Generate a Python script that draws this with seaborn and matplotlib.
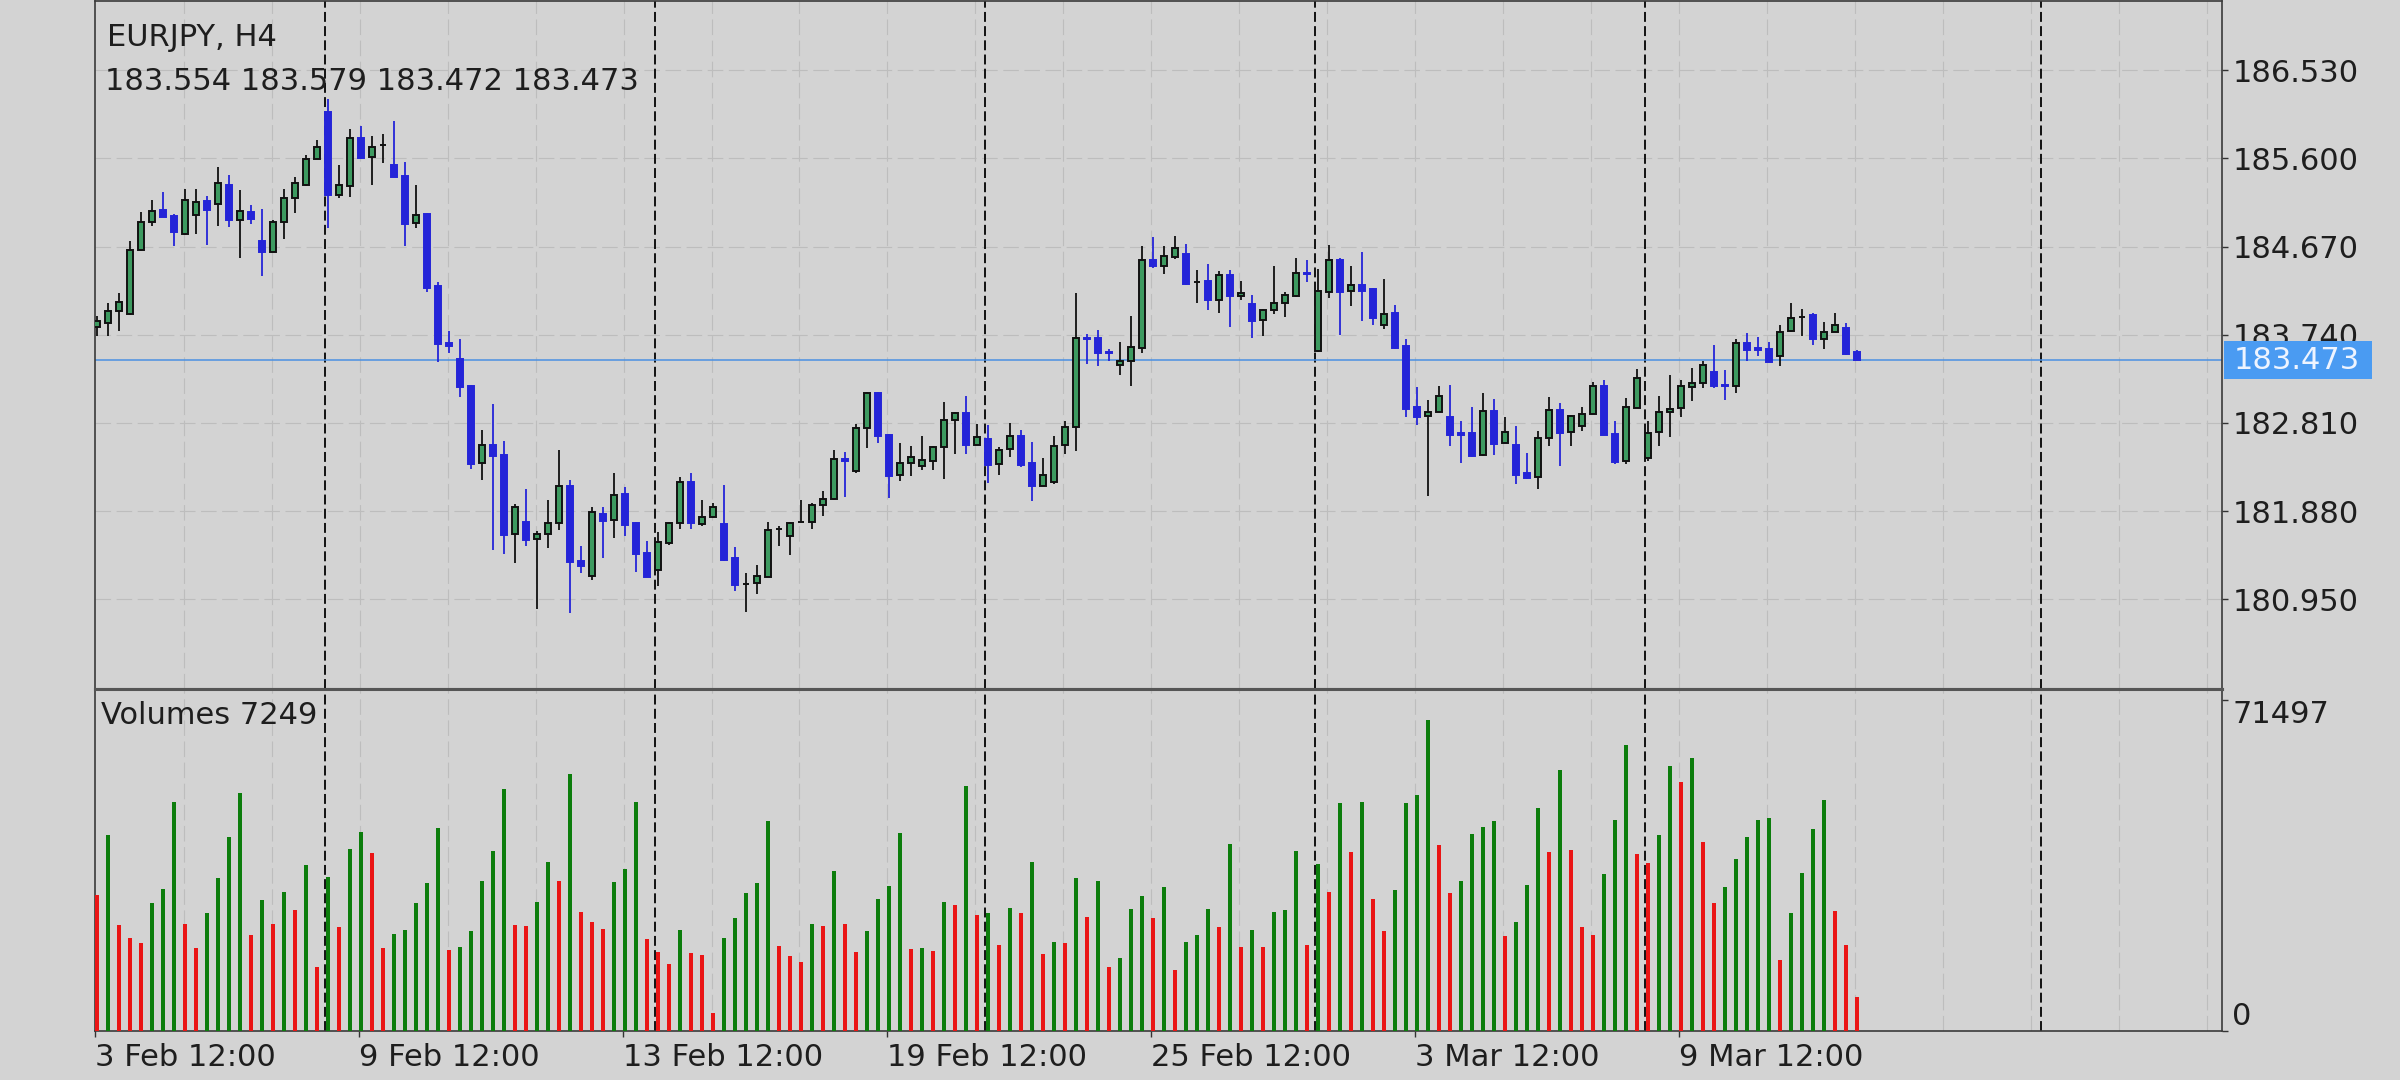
import numpy as np
import pandas as pd
import matplotlib
matplotlib.use("Agg")
import matplotlib.pyplot as plt
import matplotlib.transforms as mtransforms
from matplotlib.patches import Rectangle
import seaborn as sns

# ---------------- data ----------------
symbol_title = "EURJPY, H4"
volume_title = "Volumes"

opens = [183.82, 183.864, 183.989, 183.959, 184.630, 184.932, 185.053, 184.989, 184.808, 185.008,
         185.147, 185.121, 185.317, 184.947, 185.030, 184.725, 184.615, 184.932, 185.185, 185.317,
         185.592, 186.087, 185.215, 185.309, 185.815, 185.611, 185.740, 185.532, 185.411, 184.921,
         185.015, 184.253, 183.649, 183.480, 183.204, 182.385, 182.582, 182.468, 181.638, 181.763,
         181.589, 181.638, 181.751, 182.148, 181.355, 181.197, 181.853, 181.782, 182.065, 181.751,
         181.438, 181.261, 181.544, 181.751, 182.185, 181.744, 181.819, 181.740, 181.382, 181.110,
         181.118, 181.186, 181.687, 181.620, 181.763, 181.763, 181.940, 182.004, 182.431, 182.306,
         182.759, 183.129, 182.683, 182.261, 182.385, 182.355, 182.412, 182.551, 182.838, 182.910,
         182.582, 182.638, 182.374, 182.533, 182.676, 182.382, 182.148, 182.185, 182.574, 182.770,
         183.706, 183.702, 183.559, 183.423, 183.461, 183.600, 184.532, 184.468, 184.562, 184.593,
         184.298, 184.306, 184.102, 184.366, 184.147, 184.064, 183.891, 183.996, 184.079, 184.147,
         184.393, 183.570, 184.193, 184.525, 184.204, 184.261, 184.223, 183.838, 183.966, 183.619,
         182.978, 182.883, 182.921, 182.876, 182.699, 182.702, 182.468, 182.940, 182.600, 182.582,
         182.280, 182.242, 182.646, 182.951, 182.714, 182.782, 182.902, 183.197, 182.695, 182.404,
         182.970, 182.442, 182.714, 182.921, 182.966, 183.185, 183.234, 183.347, 183.215, 183.197,
         183.649, 183.597, 183.589, 183.514, 183.778, 183.932, 183.947, 183.695, 183.770, 183.808,
         183.554]
highs = [183.94, 184.079, 184.185, 184.732, 185.034, 185.159, 185.242, 185.015, 185.279, 185.279,
         185.204, 185.506, 185.430, 185.268, 185.110, 185.064, 184.947, 185.279, 185.404, 185.638,
         185.792, 186.223, 185.532, 185.909, 185.947, 185.838, 185.853, 185.996, 185.562, 185.317,
         185.020, 184.298, 183.781, 183.695, 183.210, 182.732, 183.008, 182.619, 181.959, 182.118,
         181.665, 181.997, 182.525, 182.204, 181.514, 181.921, 181.921, 182.280, 182.136, 181.760,
         181.563, 181.657, 181.770, 182.242, 182.280, 181.997, 181.967, 182.155, 181.506, 181.223,
         181.310, 181.770, 181.725, 181.770, 181.997, 181.967, 182.091, 182.525, 182.506, 182.800,
         183.136, 183.136, 182.695, 182.593, 182.570, 182.676, 182.570, 183.034, 182.929, 183.091,
         182.800, 182.789, 182.551, 182.808, 182.740, 182.612, 182.438, 182.676, 182.827, 184.178,
         183.751, 183.789, 183.589, 183.664, 183.940, 184.676, 184.770, 184.676, 184.777, 184.702,
         184.423, 184.487, 184.411, 184.423, 184.306, 184.159, 184.015, 184.468, 184.196, 184.551,
         184.525, 184.438, 184.687, 184.551, 184.468, 184.611, 184.230, 184.329, 184.053, 183.695,
         183.185, 183.053, 183.197, 183.215, 182.827, 182.978, 183.121, 183.061, 182.872, 182.778,
         182.495, 182.721, 183.083, 183.023, 182.890, 182.978, 183.242, 183.261, 182.834, 183.072,
         183.374, 182.834, 183.091, 183.317, 183.261, 183.385, 183.468, 183.630, 183.366, 183.695,
         183.759, 183.713, 183.668, 183.846, 184.072, 184.008, 183.966, 183.876, 183.966, 183.865,
         183.579]
lows = [183.73, 183.732, 183.781, 183.950, 184.625, 184.883, 184.980, 184.676, 184.796, 184.808,
        184.687, 184.891, 184.872, 184.555, 184.910, 184.355, 184.610, 184.751, 185.027, 185.309,
        185.590, 184.864, 185.185, 185.193, 185.590, 185.317, 185.555, 185.400, 184.676, 184.864,
        184.196, 183.449, 183.544, 183.083, 182.329, 182.212, 181.469, 181.431, 181.337, 181.514,
        180.846, 181.495, 181.676, 180.808, 181.223, 181.155, 181.382, 181.601, 181.620, 181.242,
        181.180, 181.091, 181.525, 181.695, 181.687, 181.725, 181.808, 181.355, 181.035, 180.820,
        181.008, 181.180, 181.514, 181.412, 181.760, 181.687, 181.827, 182.000, 182.027, 182.280,
        182.544, 182.593, 182.016, 182.197, 182.250, 182.317, 182.317, 182.223, 182.487, 182.480,
        182.580, 182.174, 182.261, 182.450, 182.344, 181.989, 182.140, 182.167, 182.487, 182.514,
        183.431, 183.412, 183.468, 183.317, 183.204, 183.551, 184.449, 184.385, 184.544, 184.270,
        184.079, 184.004, 183.966, 183.827, 184.110, 183.702, 183.725, 183.959, 183.932, 184.140,
        184.298, 183.560, 184.129, 183.740, 184.046, 183.883, 183.846, 183.800, 183.589, 182.876,
        182.789, 182.035, 182.920, 182.563, 182.382, 182.450, 182.460, 182.476, 182.593, 182.167,
        182.223, 182.118, 182.563, 182.355, 182.570, 182.721, 182.900, 182.680, 182.374, 182.374,
        182.970, 182.404, 182.570, 182.657, 182.872, 183.042, 183.174, 183.174, 183.053, 183.121,
        183.468, 183.514, 183.449, 183.412, 183.770, 183.725, 183.630, 183.593, 183.770, 183.530,
        183.472]
closes = [183.88, 183.989, 184.083, 184.638, 184.932, 185.045, 184.985, 184.819, 185.166, 185.143,
          185.053, 185.336, 184.947, 185.042, 184.959, 184.611, 184.932, 185.185, 185.336, 185.589,
          185.717, 185.211, 185.325, 185.815, 185.600, 185.725, 185.740, 185.404, 184.913, 185.008,
          184.234, 183.638, 183.619, 183.185, 182.374, 182.574, 182.461, 181.631, 181.921, 181.574,
          181.638, 181.751, 182.148, 181.344, 181.299, 181.865, 181.778, 182.054, 181.733, 181.431,
          181.186, 181.552, 181.759, 182.185, 181.759, 181.819, 181.921, 181.363, 181.099, 181.110,
          181.197, 181.676, 181.687, 181.751, 181.763, 181.940, 182.008, 182.431, 182.412, 182.759,
          183.129, 182.676, 182.253, 182.385, 182.450, 182.423, 182.555, 182.838, 182.914, 182.574,
          182.665, 182.363, 182.525, 182.676, 182.367, 182.140, 182.261, 182.570, 182.770, 183.706,
          183.695, 183.544, 183.544, 183.461, 183.608, 184.532, 184.461, 184.574, 184.657, 184.279,
          184.298, 184.102, 184.366, 184.147, 184.185, 183.883, 183.996, 184.079, 184.155, 184.393,
          184.378, 184.204, 184.525, 184.196, 184.261, 184.204, 183.921, 183.959, 183.600, 182.959,
          182.876, 182.929, 183.098, 182.684, 182.684, 182.461, 182.940, 182.589, 182.714, 182.261,
          182.231, 182.646, 182.948, 182.706, 182.883, 182.902, 183.197, 182.684, 182.393, 182.978,
          183.281, 182.706, 182.929, 182.959, 183.197, 183.234, 183.423, 183.197, 183.200, 183.649,
          183.581, 183.581, 183.457, 183.770, 183.921, 183.932, 183.695, 183.770, 183.846, 183.532,
          183.473]
volumes = [29376, 42336, 22896, 20160, 19008, 27648, 30672, 49392, 23112, 17928,
           25488, 33048, 41904, 51336, 20736, 28296, 23112, 30024, 26136, 35856,
           13824, 33192, 22464, 39240, 42912, 38448, 17928, 20952, 21816, 27648,
           31968, 43776, 17496, 18144, 21600, 32400, 38880, 52272, 22896, 22680,
           27864, 36504, 32400, 55512, 25704, 23544, 22032, 32184, 34992, 49464,
           19872, 17064, 14472, 21816, 16848, 16416, 3888, 20088, 24408, 29808,
           31968, 45360, 18360, 16200, 14904, 23112, 22680, 34560, 23112, 17064,
           21600, 28512, 31320, 42768, 17712, 17928, 17280, 27864, 27216, 52920,
           25056, 25488, 18576, 26568, 25488, 36504, 16632, 19224, 19008, 33048,
           24624, 32400, 13824, 15768, 26352, 29160, 24408, 31104, 13176, 19224,
           20736, 26352, 22464, 40392, 18144, 21816, 18144, 25776, 26064, 38880,
           18576, 36072, 30024, 49248, 38664, 49464, 28512, 21600, 30456, 49248,
           50976, 67176, 40176, 29808, 32400, 42552, 44064, 45360, 20520, 23544,
           31536, 48168, 38664, 56376, 39096, 22464, 20736, 33912, 45576, 61776,
           38232, 36288, 42336, 57240, 53784, 58968, 40824, 27648, 31104, 37152,
           41904, 45576, 46008, 15336, 25488, 34128, 43632, 49896, 25920, 18576,
           7249]

date_tick_bars = [0, 24, 48, 72, 96, 120, 144]
date_tick_labels = ["3 Feb 12:00", "9 Feb 12:00", "13 Feb 12:00", "19 Feb 12:00",
                    "25 Feb 12:00", "3 Mar 12:00", "9 Mar 12:00"]
week_start_bars = [21, 51, 81, 111, 141, 177]
price_ticks = [180.950, 181.880, 182.810, 183.740, 184.670, 185.600, 186.530]
volume_ticks = [0, 71497]

# ---------------- style ----------------
BG = "#D3D3D3"
BULL = "#3D9A60"
BEAR = "#2424D8"
VOL_UP = "#0C7D0C"
VOL_DN = "#EA1515"
GRID = "#BDBDBD"
TXT = "#1E1E1E"
LINE_BLUE = "#4A90E2"
BOX_BLUE = "#4A9BF2"
FS = 22

sns.set_theme(style="white", rc={"axes.facecolor": BG, "figure.facecolor": BG,
                                 "savefig.facecolor": BG})
plt.rcParams["font.family"] = ["DejaVu Sans"]

W, H = 2400, 1080
fig = plt.figure(figsize=(24, 10.8), dpi=100)
L, R = 95 / W, 2222 / W
TOP, MID, BOT = 1, 689, 1031
ax = fig.add_axes([L, 1 - MID / H, R - L, (MID - TOP) / H])
axv = fig.add_axes([L, 1 - BOT / H, R - L, (BOT - MID) / H], sharex=ax)
for a in (ax, axv):
    a.set_facecolor(BG)

n = len(closes)
x = np.arange(n)
o = np.array(opens); h = np.array(highs); l = np.array(lows); c = np.array(closes)
XMIN, XMAX = -0.21, 193.2

# grid
grid_bars = np.arange(8, 193, 8) - 0.15
for a in (ax, axv):
    for gx in grid_bars:
        a.axvline(gx, color=GRID, lw=0.8, ls=(0, (14, 5)), zorder=0.5)
for py in price_ticks:
    ax.axhline(py, color=GRID, lw=0.8, ls=(0, (14, 5)), zorder=0.5)

# week separators
for a in (ax, axv):
    for wb in week_start_bars:
        a.axvline(wb - 0.3, color="#111111", lw=1.4, ls=(0, (5.1, 2.2)), zorder=1.5)

# current price line
ax.axhline(c[-1], color=LINE_BLUE, lw=1.1, zorder=1.8)

# candles
bull = c >= o
wick_cols = np.where(bull, "#111111", BEAR)
ax.vlines(x, l, h, colors=wick_cols, linewidth=1.3, zorder=3)
bb = np.minimum(o, c)
bh = np.abs(c - o)
ax.bar(x[bull], bh[bull], bottom=bb[bull], width=0.56, color=BULL,
       edgecolor="#111111", linewidth=1.4, zorder=4)
ax.bar(x[~bull], bh[~bull], bottom=bb[~bull], width=0.56, color=BEAR,
       edgecolor=BEAR, linewidth=1.4, zorder=4)

# volumes (colored by change vs previous bar)
vol = np.array(volumes)
dirs = ["down"] + ["up" if vol[i] > vol[i - 1] else "down" for i in range(1, n)]
df = pd.DataFrame({"bar": x, "volume": vol, "dir": dirs})
sns.barplot(data=df, x="bar", y="volume", hue="dir", palette={"up": VOL_UP, "down": VOL_DN},
            native_scale=True, width=0.36, dodge=False, errorbar=None, saturation=1,
            linewidth=0, legend=False, ax=axv, zorder=3)
axv.set_xlabel(""); axv.set_ylabel("")

# limits
ax.set_xlim(XMIN, XMAX)
ax.set_ylim(180.003, 187.261)
axv.set_ylim(0, 73900)

# axes / ticks
ax.yaxis.tick_right()
ax.set_yticks(price_ticks)
ax.set_yticklabels([f"{p:.3f}" for p in price_ticks])
ax.tick_params(axis="y", direction="out", length=4.5, width=1, color="#333333",
               labelsize=FS, labelcolor=TXT, pad=3, right=True, left=False)
ax.tick_params(axis="x", bottom=False, labelbottom=False)

axv.yaxis.tick_right()
axv.set_yticks(volume_ticks)
axv.set_yticklabels([str(v) for v in volume_ticks])
axv.tick_params(axis="y", direction="out", length=4.5, width=1, color="#333333",
                labelsize=FS, labelcolor=TXT, pad=3, right=True, left=False)
ylabs = axv.get_yticklabels()
ylabs[0].set_va("bottom")
ylabs[1].set_va("top")

axv.set_xticks([b - 0.2 for b in date_tick_bars])
axv.set_xticklabels(date_tick_labels, ha="left")
axv.tick_params(axis="x", direction="out", length=4.5, width=1, color="#333333",
                labelsize=FS, labelcolor=TXT, pad=4, bottom=True)
axv.set_xlim(XMIN, XMAX)

for a in (ax, axv):
    for s in a.spines.values():
        s.set_visible(True)
        s.set_color("#3A3A3A")
        s.set_linewidth(1.2)
ax.spines["bottom"].set_color("#555555")
ax.spines["bottom"].set_linewidth(2.2)
axv.spines["top"].set_color("#555555")
axv.spines["top"].set_linewidth(2.2)

# current price box on the right axis
blend = mtransforms.blended_transform_factory(ax.transAxes, ax.transData)
axw_px = (R - L) * W
box = Rectangle((1 + 2 / axw_px, c[-1] - 0.198), 148 / axw_px, 0.396,
                transform=blend, facecolor=BOX_BLUE, edgecolor="none",
                clip_on=False, zorder=10)
ax.add_patch(box)
ax.text(1 + 12 / axw_px, c[-1], f"{c[-1]:.3f}", transform=blend, ha="left", va="center",
        fontsize=FS, color="#EEF4FF", clip_on=False, zorder=11)

# header texts
fig.text(107 / W, 1 - 38 / H, symbol_title, ha="left", va="center", fontsize=FS, color=TXT)
fig.text(105 / W, 1 - 82 / H, f"{o[-1]:.3f} {h[-1]:.3f} {l[-1]:.3f} {c[-1]:.3f}",
         ha="left", va="center", fontsize=FS, color=TXT)
fig.text(101 / W, 1 - 716 / H, f"{volume_title} {volumes[-1]}", ha="left", va="center",
         fontsize=FS, color=TXT)

fig.savefig("out.png", dpi=100, facecolor=BG)
